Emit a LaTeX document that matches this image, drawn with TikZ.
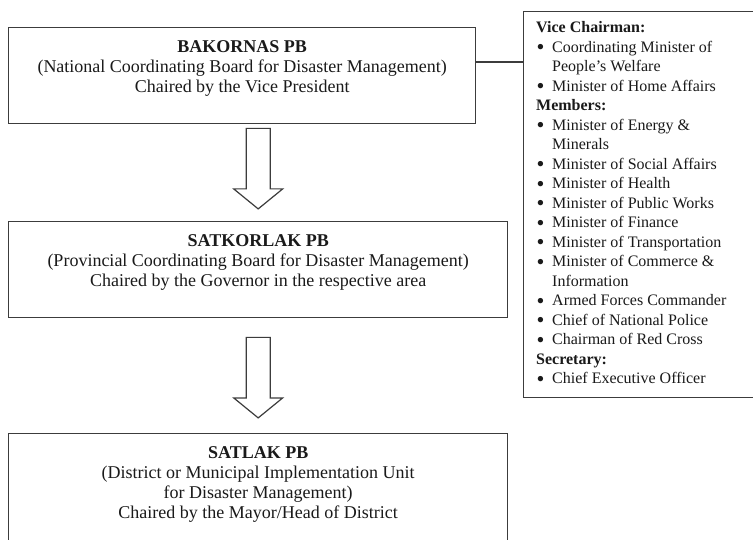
\documentclass[tikz,border=0pt]{standalone}
\usepackage{fontspec}
\setmainfont{Liberation Serif}
\usetikzlibrary{calc}
\definecolor{linegray}{HTML}{3C3C3C}
\definecolor{textdark}{HTML}{1A1A1A}
\newcommand{\lbul}{\makebox[16pt][l]{\hspace{0.5pt}\raisebox{-2.2pt}[0pt][0pt]{\scalebox{1.4}{\textbullet}}}}
\newcommand{\lind}{\hspace*{16pt}}
\begin{document}
\begin{tikzpicture}[x=1pt,y=-1pt,
  frame/.style={draw=linegray, line width=1.4pt, inner sep=0pt, anchor=north west},
  boxtext/.style={align=center, font=\fontsize{18}{20}\selectfont, text=textdark, inner sep=0pt, anchor=north},
  listtext/.style={align=left, font=\fontsize{16}{19.5}\selectfont, text=textdark, inner sep=0pt, anchor=north west},
  hollow/.style={draw=linegray, line width=1.2pt, fill=white, line join=miter},
  conn/.style={draw=linegray, line width=1.2pt},
  downarrow/.pic={\draw[hollow] (-12,0) -- (12,0) -- (12,60.5) -- (24.5,60.5) -- (0,80.5) -- (-24.5,60.5) -- (-12,60.5) -- cycle;}]
\useasboundingbox (0,0) rectangle (753,540);
\clip (0,0) rectangle (753,540);
\fill[white] (0,0) rectangle (753,540);

% boxes
\node[frame, minimum width=467pt, minimum height=96pt] (bak) at (8,27) {};
\node[frame, minimum width=499pt, minimum height=96pt] (sat) at (8,221) {};
\node[frame, minimum width=499pt, minimum height=140pt] (satlak) at (8,433) {};
\node[frame, minimum width=260pt, minimum height=386pt] (panel) at (523,11) {};

% box texts
\node[boxtext] (bakt) at ($(bak.north)+(0,13)$) {\textbf{BAKORNAS PB}\\(National Coordinating Board for Disaster Management)\\Chaired by the Vice President};
\node[boxtext] (satt) at ($(sat.north)+(0,13)$) {\textbf{SATKORLAK PB}\\(Provincial Coordinating Board for Disaster Management)\\Chaired by the Governor in the respective area};
\node[boxtext] (satlakt) at ($(satlak.north)+(0,13)$) {\textbf{SATLAK PB}\\(District or Municipal Implementation Unit\\for Disaster Management)\\Chaired by the Mayor/Head of District};

% member list
\node[listtext] (list) at (536,21.5) {\textbf{Vice Chairman:}\\
\lbul Coordinating Minister of\\
\lind People's Welfare\\
\lbul Minister of Home Affairs\\
\textbf{Members:}\\
\lbul Minister of Energy \&\\
\lind Minerals\\
\lbul Minister of Social Affairs\\
\lbul Minister of Health\\
\lbul Minister of Public Works\\
\lbul Minister of Finance\\
\lbul Minister of Transportation\\
\lbul Minister of Commerce \&\\
\lind Information\\
\lbul Armed Forces Commander\\
\lbul Chief of National Police\\
\lbul Chairman of Red Cross\\
\textbf{Secretary:}\\
\lbul Chief Executive Officer};

% connector to panel
\coordinate (cy) at (0,62);
\draw[conn] (bak.east |- cy) -- (panel.west |- cy);

% hollow arrows
\pic at ($(sat.north |- bak.south)+(0,4)$) {downarrow};
\pic at ($(sat.south)+(0,19)$) {downarrow};
\end{tikzpicture}
\end{document}
